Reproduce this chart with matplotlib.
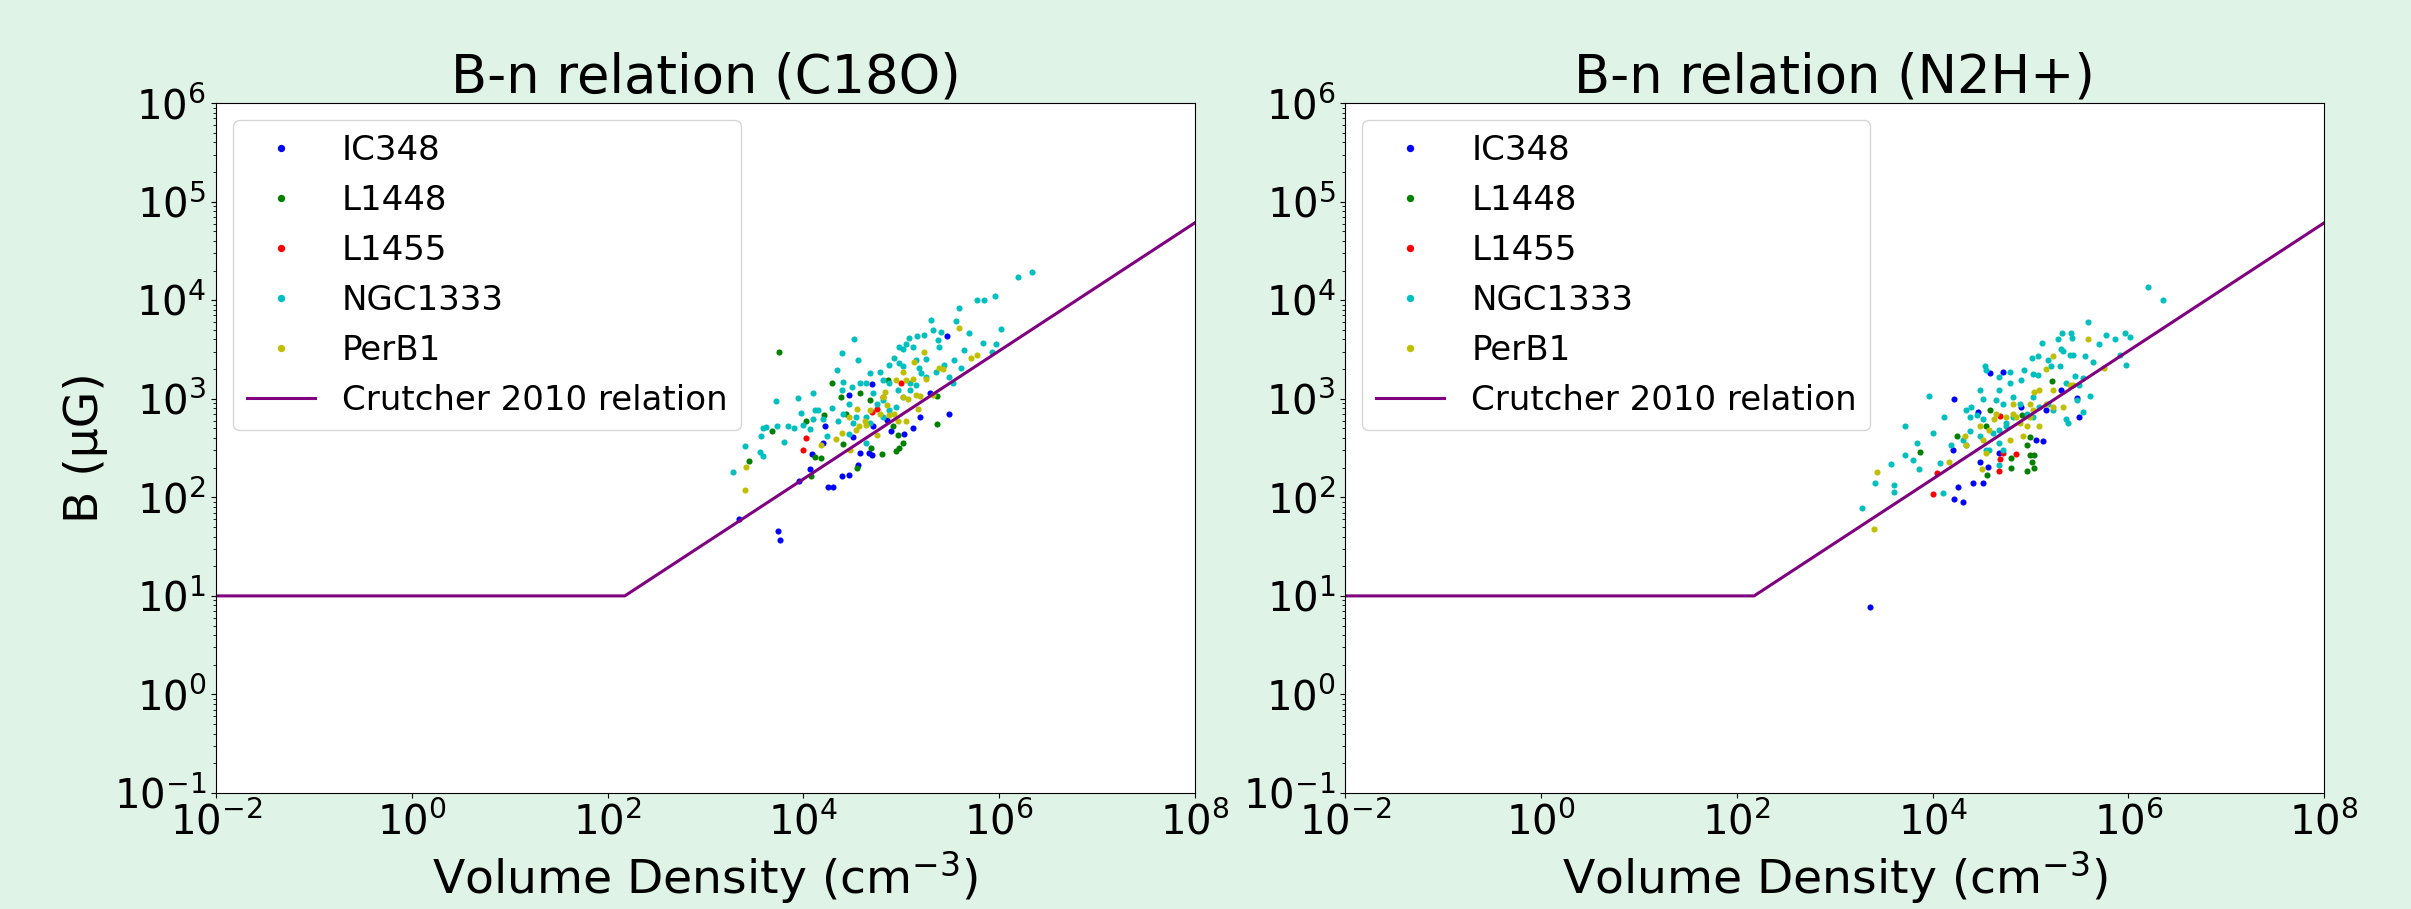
import numpy as np
from matplotlib import pyplot as plt

# values, stored as log10(n / cm^-3) and log10(B / uG)
regions = ["IC348", "L1448", "L1455", "NGC1333", "PerB1"]
colors = ["b", "g", "r", "c", "y"]

# ---- C18O panel ----
c18o_ic348_logn = [3.34, 3.74, 3.76, 3.96, 4.07, 4.09, 4.20, 4.22, 4.40, 4.47, 4.25, 4.30, 4.58, 4.67,
                   4.70, 4.56, 4.51, 4.71, 4.90, 5.03, 5.12, 5.19, 5.49, 5.47, 5.29, 4.70, 4.47, 4.85]
c18o_ic348_logb = [1.78, 1.66, 1.57, 2.17, 2.29, 2.44, 2.55, 2.72, 2.22, 2.23, 2.10, 2.10, 2.45, 2.45,
                   2.43, 2.33, 2.61, 2.72, 2.67, 2.64, 2.70, 2.82, 2.85, 3.64, 3.06, 3.15, 3.04, 2.78]
c18o_l1448_logn = [3.75, 4.29, 4.38, 4.58, 4.68, 4.21, 4.03, 3.68, 3.44, 4.18, 4.12, 4.08, 4.41, 4.69,
                   4.80, 4.95, 4.98, 5.02, 4.97, 5.37, 5.37, 4.55, 4.92, 4.86, 4.44]
c18o_l1448_logb = [3.47, 3.16, 3.02, 3.06, 2.99, 2.84, 2.77, 2.67, 2.37, 2.40, 2.41, 2.22, 2.54, 2.50,
                   2.44, 2.47, 2.50, 2.55, 2.63, 2.74, 3.03, 2.30, 2.72, 3.19, 2.85]
c18o_l1455_logn = [4.03, 4.00, 4.70, 4.75, 5.00, 4.81]
c18o_l1455_logb = [2.60, 2.48, 2.87, 2.90, 3.16, 3.02]
c18o_ngc1333_logn = [6.34, 6.19, 5.96, 5.85, 5.77, 5.59, 5.56, 5.30, 5.32, 5.41, 5.69, 6.02, 5.84, 5.97,
                     5.93, 5.64, 5.54, 5.61, 5.39, 5.38, 4.52, 4.39, 4.56, 4.34, 5.16, 5.23, 5.08, 5.05,
                     5.12, 5.02, 4.98, 4.93, 4.98, 5.15, 5.25, 5.18, 5.20, 5.25, 5.09, 5.02, 4.88, 4.78,
                     4.81, 4.68, 4.64, 4.71, 4.88, 4.97, 4.81, 4.75, 4.95, 5.15, 5.36, 5.44, 5.49, 5.53,
                     4.10, 3.95, 3.72, 3.98, 4.12, 4.15, 4.29, 4.41, 4.39, 4.50, 4.58, 4.47, 4.41, 4.54,
                     4.51, 4.64, 4.68, 4.81, 4.88, 5.09, 5.02, 4.10, 4.00, 3.90, 3.84, 3.73, 3.62, 3.59,
                     3.57, 3.40, 3.80, 3.56, 3.59, 3.28, 4.07, 4.20, 4.24, 4.35, 4.47, 4.64]
c18o_ngc1333_logb = [4.29, 4.24, 4.04, 4.00, 4.00, 3.92, 3.79, 3.80, 3.70, 3.68, 3.67, 3.71, 3.57, 3.56,
                     3.47, 3.49, 3.39, 3.31, 3.53, 3.60, 3.61, 3.46, 3.39, 3.29, 3.64, 3.65, 3.62, 3.56,
                     3.53, 3.50, 3.53, 3.41, 3.36, 3.39, 3.40, 3.31, 3.26, 3.22, 3.16, 3.33, 3.34, 3.27,
                     3.19, 3.26, 3.16, 3.06, 3.16, 3.09, 2.99, 2.95, 2.92, 3.14, 3.27, 3.34, 3.22, 3.16,
                     3.06, 3.01, 2.98, 2.86, 2.89, 2.89, 2.91, 3.17, 3.09, 3.12, 3.16, 2.95, 2.85, 2.82,
                     2.75, 2.82, 2.75, 2.82, 2.89, 3.09, 3.02, 2.79, 2.73, 2.70, 2.72, 2.72, 2.71, 2.70,
                     2.62, 2.52, 2.56, 2.46, 2.42, 2.26, 2.69, 2.79, 2.62, 2.77, 2.64, 2.55]
c18o_perb1_logn = [3.40, 3.41, 4.18, 4.33, 4.39, 4.48, 4.47, 4.55, 4.57, 4.64, 4.68, 4.75, 4.81, 4.83,
                   4.88, 4.93, 4.97, 5.02, 5.07, 4.95, 5.02, 5.05, 5.12, 5.19, 5.15, 5.25, 5.13, 5.23,
                   5.39, 5.43, 5.32, 5.59, 5.71, 5.77, 4.54, 4.63, 4.78, 4.85, 5.05, 5.17]
c18o_perb1_logb = [2.07, 2.31, 2.53, 2.59, 2.65, 2.48, 2.82, 2.90, 2.72, 2.73, 2.89, 2.63, 3.02, 3.07,
                   2.84, 2.85, 2.77, 3.02, 3.00, 3.19, 3.27, 3.19, 3.20, 3.03, 3.04, 3.20, 3.37, 3.47,
                   3.31, 3.30, 3.04, 3.72, 3.41, 3.44, 2.68, 2.77, 2.85, 2.94, 2.77, 2.90]

# ---- N2H+ panel ----
n2h_ic348_logn = [4.59, 4.72, 4.22, 4.46, 4.90, 5.16, 5.31, 5.47, 5.49, 5.06, 5.13, 4.21, 4.48, 4.57,
                  4.26, 4.41, 4.51, 4.22, 4.31, 4.68, 3.36]
n2h_ic348_logb = [3.26, 3.27, 3.00, 2.87, 2.92, 2.89, 3.09, 3.01, 2.81, 2.58, 2.57, 2.48, 2.36, 2.31,
                  2.10, 2.15, 2.15, 1.98, 1.95, 2.45, 0.89]
n2h_l1448_logn = [5.22, 4.59, 4.55, 4.91, 4.99, 4.96, 4.99, 5.04, 5.01, 5.04, 4.96, 4.80, 4.80, 4.56,
                  3.87, 4.25]
n2h_l1448_logb = [3.18, 2.89, 2.72, 2.84, 2.61, 2.53, 2.43, 2.43, 2.36, 2.30, 2.27, 2.40, 2.30, 2.23,
                  2.46, 2.62]
n2h_l1455_logn = [4.69, 4.69, 4.85, 4.68, 4.04, 4.00, 4.72]
n2h_l1455_logb = [2.83, 2.39, 2.44, 2.27, 2.25, 2.03, 2.45]
n2h_ngc1333_logn = [6.20, 6.35, 5.59, 5.32, 5.41, 5.42, 5.77, 5.86, 5.96, 6.02, 5.70, 5.28, 5.12, 5.01,
                    5.08, 5.18, 5.31, 5.33, 5.40, 5.43, 5.56, 5.64, 5.98, 5.91, 4.93, 5.02, 5.08, 5.21,
                    5.30, 5.45, 5.36, 5.54, 5.49, 5.61, 5.54, 5.47, 5.36, 5.38, 5.23, 5.18, 5.09, 5.02,
                    4.90, 4.79, 4.68, 4.79, 4.68, 4.65, 4.72, 4.82, 4.89, 4.96, 5.02, 4.82, 4.75, 4.68,
                    4.55, 4.53, 4.48, 4.51, 4.39, 4.34, 4.45, 4.38, 4.51, 4.62, 4.68, 4.72, 4.58, 4.48,
                    4.38, 4.31, 4.34, 4.19, 3.96, 4.12, 3.72, 4.00, 3.84, 3.72, 3.80, 3.86, 3.57, 3.41,
                    3.60, 3.60, 3.28, 4.11, 4.07, 4.68, 4.75, 4.55]
n2h_ngc1333_logb = [4.13, 4.00, 3.78, 3.67, 3.67, 3.62, 3.65, 3.61, 3.67, 3.63, 3.56, 3.61, 3.57, 3.41,
                    3.43, 3.39, 3.50, 3.48, 3.44, 3.44, 3.43, 3.37, 3.34, 3.44, 3.29, 3.25, 3.24, 3.33,
                    3.33, 3.23, 3.16, 3.21, 3.14, 3.03, 2.87, 2.99, 2.79, 2.75, 2.89, 2.95, 2.92, 3.02,
                    3.19, 3.27, 3.22, 3.16, 3.09, 2.99, 2.95, 3.02, 2.95, 2.85, 2.82, 2.82, 2.75, 2.68,
                    3.29, 3.33, 3.09, 3.00, 2.92, 2.89, 2.84, 2.82, 2.79, 2.65, 2.55, 2.48, 2.48, 2.62,
                    2.67, 2.58, 2.53, 2.53, 3.03, 2.81, 2.72, 2.65, 2.55, 2.43, 2.38, 2.29, 2.34, 2.15,
                    2.13, 2.05, 1.89, 2.04, 2.35, 2.33, 2.72, 2.48]
n2h_perb1_logn = [5.59, 5.23, 5.16, 5.40, 5.23, 5.09, 5.04, 4.99, 5.02, 4.82, 4.82, 4.89, 4.96, 4.99,
                  5.09, 4.92, 4.79, 4.65, 4.63, 4.58, 4.51, 4.55, 4.48, 4.34, 4.33, 3.43, 3.40, 4.17,
                  4.50, 5.75, 5.43, 5.33, 5.23, 5.16, 4.85, 4.75]
n2h_perb1_logb = [3.61, 3.43, 3.30, 3.14, 3.09, 3.09, 3.07, 2.95, 2.89, 2.95, 2.85, 2.75, 2.72, 2.82,
                  2.72, 2.62, 2.58, 2.85, 2.79, 2.68, 2.58, 2.45, 2.72, 2.53, 2.62, 2.26, 1.68, 2.36,
                  2.29, 3.31, 3.14, 2.92, 2.92, 2.95, 2.82, 2.82]

# Crutcher 2010: flat 10 uG below n ~ 150 cm^-3, then B ~ n^0.65
crutcher_n = [1e-2, 150, 1e8]
crutcher_b = [10, 10, 6.1e4]

panels = [
    ("B-n relation (C18O)",
     [(c18o_ic348_logn, c18o_ic348_logb), (c18o_l1448_logn, c18o_l1448_logb),
      (c18o_l1455_logn, c18o_l1455_logb), (c18o_ngc1333_logn, c18o_ngc1333_logb),
      (c18o_perb1_logn, c18o_perb1_logb)]),
    ("B-n relation (N2H+)",
     [(n2h_ic348_logn, n2h_ic348_logb), (n2h_l1448_logn, n2h_l1448_logb),
      (n2h_l1455_logn, n2h_l1455_logb), (n2h_ngc1333_logn, n2h_ngc1333_logb),
      (n2h_perb1_logn, n2h_perb1_logb)]),
]

fig = plt.figure(figsize=(24.11, 9.09), dpi=100, facecolor="#dff3e7")
lefts = [0.0896, 0.558]

for k, (title, data) in enumerate(panels):
    ax = fig.add_axes([lefts[k], 0.1276, 0.406, 0.759])
    for name, col, (ln, lb) in zip(regions, colors, data):
        ax.plot(10 ** np.array(ln), 10 ** np.array(lb), "o", color=col, ms=4.4, mew=0,
                linestyle="none", label=name)
    ax.plot(crutcher_n, crutcher_b, color="purple", lw=2.2, label="Crutcher 2010 relation")
    ax.set_xscale("log")
    ax.set_yscale("log")
    ax.set_xlim(1e-2, 1e8)
    ax.set_ylim(1e-1, 1e6)
    ax.set_xticks([1e-2, 1e0, 1e2, 1e4, 1e6, 1e8])
    ax.set_yticks([10.0 ** p for p in range(-1, 7)])
    ax.tick_params(labelsize=29)
    ax.set_title(title, fontsize=38)
    ax.set_xlabel("Volume Density (cm$^{-3}$)", fontsize=34)
    if k == 0:
        ax.set_ylabel("B (μG)", fontsize=34)
    ax.legend(loc="upper left", fontsize=24.5, markerscale=1.2)

fig.savefig("out.png", dpi=100, facecolor=fig.get_facecolor())
